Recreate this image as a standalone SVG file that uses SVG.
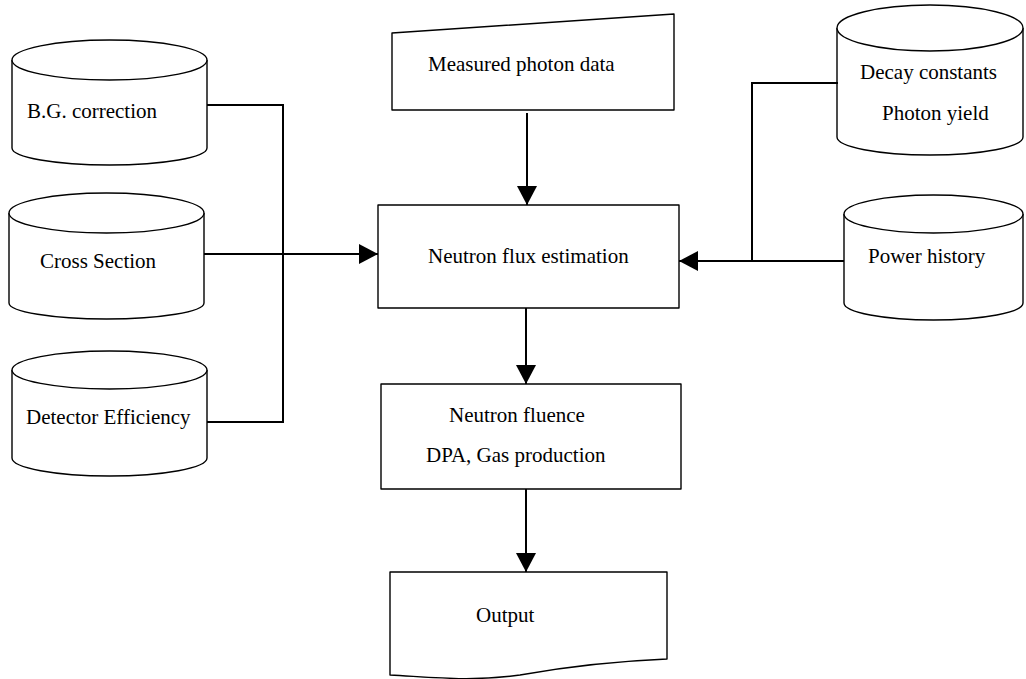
<svg xmlns="http://www.w3.org/2000/svg" width="1026" height="679" viewBox="0 0 1026 679">
<defs>
<style>
.shape{fill:#fff;stroke:#000;stroke-width:1.4;stroke-linejoin:round}
.conn{fill:none;stroke:#000;stroke-width:2}
.lbl{font-family:"Liberation Serif","Times New Roman",serif;font-size:21px;fill:#000}
</style>
<marker id="arr" viewBox="0 0 19 20" refX="19" refY="10" markerWidth="19" markerHeight="20" markerUnits="userSpaceOnUse" orient="auto">
<path d="M0,0 L19,10 L0,20 Z" fill="#000"/>
</marker>
</defs>
<rect width="1026" height="679" fill="#fff"/>

<g id="bg-correction">
<path class="shape" d="M12,60 A97.5,20 0 0 1 207,60 L207,148 A97.5,17 0 0 1 12,148 Z"/>
<path class="shape" d="M12,60 A97.5,20 0 0 0 207,60" fill="none"/>
<text class="lbl" x="27" y="118">B.G. correction</text>
</g>

<g id="cross-section">
<path class="shape" d="M9,213 A97.5,20 0 0 1 204,213 L204,303 A97.5,16 0 0 1 9,303 Z"/>
<path class="shape" d="M9,213 A97.5,20 0 0 0 204,213" fill="none"/>
<text class="lbl" x="40" y="268">Cross Section</text>
</g>

<g id="detector-efficiency">
<path class="shape" d="M12,370 A97.5,19 0 0 1 207,370 L207,458 A97.5,18 0 0 1 12,458 Z"/>
<path class="shape" d="M12,370 A97.5,19 0 0 0 207,370" fill="none"/>
<text class="lbl" x="26" y="424">Detector Efficiency</text>
</g>

<g id="measured-photon">
<path class="shape" d="M392,33 L674,14 L674,110 L392,110 Z"/>
<text class="lbl" x="428" y="71">Measured photon data</text>
</g>

<g id="decay-constants">
<path class="shape" d="M837,28 A93,23 0 0 1 1023,28 L1023,137 A93,18 0 0 1 837,137 Z"/>
<path class="shape" d="M837,28 A93,23 0 0 0 1023,28" fill="none"/>
<text class="lbl" x="860" y="79">Decay constants</text>
<text class="lbl" x="882" y="120">Photon yield</text>
</g>

<g id="power-history">
<path class="shape" d="M844,214 A89.5,19 0 0 1 1023,214 L1023,303 A89.5,17 0 0 1 844,303 Z"/>
<path class="shape" d="M844,214 A89.5,19 0 0 0 1023,214" fill="none"/>
<text class="lbl" x="868" y="263">Power history</text>
</g>

<g id="neutron-flux">
<rect class="shape" x="378" y="205" width="301" height="103"/>
<text class="lbl" x="428" y="263">Neutron flux estimation</text>
</g>

<g id="neutron-fluence">
<rect class="shape" x="381" y="384" width="300" height="105"/>
<text class="lbl" x="449" y="422">Neutron fluence</text>
<text class="lbl" x="426" y="462">DPA, Gas production</text>
</g>

<g id="output">
<path class="shape" d="M390,572 L667,572 L667,659 C620,661 570,666 520,675 C470,682 430,677 390,675 Z"/>
<text class="lbl" x="476" y="622">Output</text>
</g>

<g id="connectors">
<polyline class="conn" points="207,105 283,105 283,422 207,422"/>
<line class="conn" x1="204" y1="254" x2="378" y2="254" marker-end="url(#arr)"/>
<line class="conn" x1="527" y1="113" x2="527" y2="205" marker-end="url(#arr)"/>
<polyline class="conn" points="838,83 752,83 752,261"/>
<line class="conn" x1="844" y1="261" x2="679" y2="261" marker-end="url(#arr)"/>
<line class="conn" x1="526" y1="308" x2="526" y2="384" marker-end="url(#arr)"/>
<line class="conn" x1="526" y1="489" x2="526" y2="572" marker-end="url(#arr)"/>
</g>
</svg>
